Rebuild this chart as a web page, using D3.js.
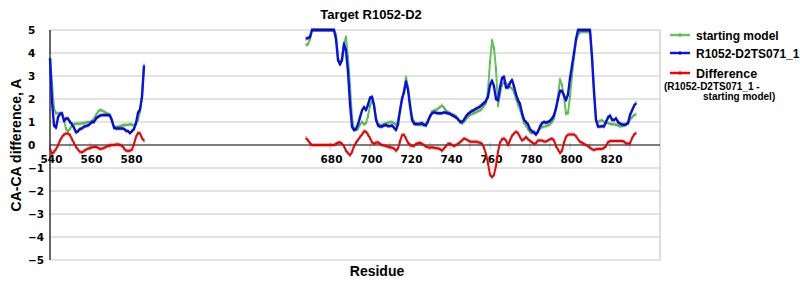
<!DOCTYPE html>
<html>
<head>
<meta charset="utf-8">
<script src="https://cdn.jsdelivr.net/npm/d3@7"></script>
<style>
    body { margin: 0; background: #ffffff; }
    .TickText { font-family: "DejaVu Sans", sans-serif; font-weight: bold; font-size: 10.5px; fill: #000; }
    .TitleText { font-family: "Liberation Sans", Arial, sans-serif; font-weight: bold; fill: #000; }
    .LegendText { font-family: "Liberation Sans", Arial, sans-serif; font-weight: bold; fill: #000; }
</style>
</head>
<body>
<svg id="SvgContainer"></svg>
<script>
//Globals
var width = 800;
var height = 300;

// residues where each stretch of data starts
var firstStart = 540;
var secondStart = 668;

// y axis tick values
var yTicks = [-5, -4, -3, -2, -1, 0, 1, 2, 3, 4, 5];

// starting model, residues 540-587
var startingModelA = [3.9, 2.7, 1.6, 1.38, 1.38, 1.38, 1.35, 1.1, 0.7, 0.6,
    0.7, 0.85, 0.9, 0.92, 0.92, 0.92, 0.95, 0.95, 0.98, 1.0,
    1.0, 1.05, 1.15, 1.3, 1.45, 1.52, 1.5, 1.45, 1.4, 1.35,
    1.3, 1.1, 0.8, 0.78, 0.8, 0.82, 0.85, 0.87, 0.87, 0.88,
    0.9, 0.88, 0.85, 0.95, 1.1, 1.45, 2.1, 3.4];

// starting model, residues 668-833
var startingModelB = [4.35, 4.38, 4.6, 5, 5, 5, 5, 5, 5, 5, 5, 5, 5, 5, 5,
    4.8, 3.8, 3.55, 3.75, 4.4, 4.7, 3.8, 2.6, 1.2, 0.7, 0.65,
    0.7, 0.9, 1.0, 0.9, 0.95, 1.25, 1.7, 1.95, 1.7, 1.2,
    0.9, 0.87, 0.87, 0.9, 0.95, 0.97, 1.0, 1.0, 0.95, 0.87,
    1.1, 1.5, 2.0, 2.4, 2.95, 2.5, 1.8, 1.25, 1.0, 0.95,
    0.88,
    0.88, 0.87, 0.87, 0.92, 1.0, 1.2, 1.45, 1.5, 1.52, 1.58,
    1.65, 1.72, 1.62, 1.5, 1.42, 1.38, 1.33, 1.3, 1.25, 1.12,
    0.98, 0.94, 1.0, 1.12, 1.22, 1.3, 1.35, 1.38, 1.42, 1.47,
    1.5, 1.58, 1.7, 1.82, 2.4, 3.6, 4.55, 4.2, 3.3, 1.7,
    2.2, 2.62, 2.72, 2.68, 2.62, 2.52, 2.46, 2.3, 2.0, 1.75,
    1.55, 1.25, 0.95,
    0.85, 0.7, 0.55, 0.52, 0.55, 0.52, 0.6, 0.72, 0.78, 0.8,
    0.82, 0.85, 0.9, 1.0, 1.15, 1.55, 2.15, 2.85, 2.6, 2.05,
    1.35, 1.4, 2.1, 3.0, 3.8, 4.5, 4.8, 4.9, 4.92, 4.92,
    4.92, 4.92, 4.9, 3.9, 2.4, 1.05, 1.0, 1.05, 1.08, 1.0,
    0.98, 0.95, 0.92, 0.9, 0.9, 0.88, 0.85, 0.8, 0.82, 0.85,
    0.88, 0.95, 1.1, 1.2, 1.3, 1.33];

// R1052-D2TS071_1, residues 540-587
var modelA = [3.77, 1.9, 0.85, 0.75, 1.2, 1.35, 1.38, 1.05, 1.15, 1.15,
    1.0, 0.9, 0.75, 0.55, 0.6, 0.7, 0.72, 0.8, 0.82, 0.85,
    0.92, 1.0, 1.0, 1.15, 1.22, 1.28, 1.3, 1.3, 1.3, 1.3,
    1.28, 1.05, 0.75, 0.72, 0.72, 0.72, 0.72, 0.7, 0.62, 0.6,
    0.52, 0.6, 0.7, 0.95, 1.4, 1.55, 2.1, 3.45];

// R1052-D2TS071_1, residues 668-833
var modelB = [4.62, 4.65, 4.7, 5, 5, 5, 5, 5, 5, 5, 5, 5, 5, 5, 5,
    4.6, 3.7, 3.5, 3.7, 4.4, 4.1, 3.2, 1.8, 0.8, 0.65,
    0.7, 0.9, 1.2, 1.5, 1.65, 1.52, 1.75, 2.05, 2.1, 1.74,
    1.1, 0.85, 0.8, 0.8, 0.85, 0.87, 0.82, 0.82, 0.85, 0.75,
    0.65, 0.9, 1.5, 2.0, 2.3, 2.75, 2.4, 1.7, 1.1, 0.93, 0.9,
    0.92,
    0.93, 0.95, 0.88, 0.85, 1.05, 1.25, 1.38, 1.42, 1.4, 1.38,
    1.38, 1.38, 1.42, 1.4, 1.38, 1.35, 1.3, 1.25, 1.2, 1.12,
    1.02, 1.0, 1.1, 1.25, 1.35, 1.42, 1.48, 1.52, 1.58, 1.62,
    1.67, 1.75, 1.83, 1.92, 2.1, 2.6, 2.8, 2.55, 2.0, 1.95,
    2.5, 2.9, 2.97, 2.5, 2.5, 2.7, 2.83, 2.55, 2.2, 1.95,
    1.78, 1.4, 1.1,
    1.0, 0.9, 0.68, 0.6, 0.55, 0.45, 0.58, 0.8, 0.95, 1.0,
    0.97, 1.0, 1.05, 1.15, 1.3, 1.6, 2.0, 2.35, 2.35, 2.15,
    1.95, 2.2, 2.9, 3.45, 4.0, 4.6, 5, 5, 5, 5,
    5, 5, 5, 3.8, 2.3, 1.1, 0.8, 0.8, 0.82, 0.8,
    1.0, 1.2, 1.28, 1.1, 1.09, 1.16, 1.0, 0.93, 0.9, 0.88,
    0.9, 0.95, 1.3, 1.5, 1.7, 1.82];

// Difference, residues 540-587
var differenceA = [-0.15, -0.38, -0.3, -0.18, -0.02, 0.2, 0.35, 0.45, 0.5, 0.5,
    0.43, 0.25, 0.08, -0.08, -0.2, -0.3, -0.32, -0.26, -0.2, -0.16,
    -0.13, -0.1, -0.09, -0.08, -0.12, -0.17, -0.15, -0.13, -0.08, -0.04,
    -0.02, 0.0, 0.0, 0.02, 0.03, 0.0, -0.03, -0.15, -0.24, -0.26,
    -0.25, -0.2, 0.05, 0.35, 0.52, 0.51, 0.3, 0.18];

// Difference, residues 668-833
var differenceB = [0.3, 0.2, 0.08, 0, 0, 0, 0, 0, 0, 0, 0, 0, 0, 0, 0,
    0.05, 0.1, 0.12, 0.05, -0.05, -0.25, -0.35, -0.45, -0.3, -0.05, 0.1,
    0.22, 0.35, 0.45, 0.6, 0.58, 0.45, 0.3, 0.12, 0.05, 0.1,
    0.12, 0.05, 0.0, -0.02, -0.05, -0.08, -0.1, -0.12, -0.15, -0.25,
    -0.15, 0.15, 0.43, 0.45, 0.28, 0.1, 0.0, -0.03, -0.05, 0.05,
    0.08,
    0.1, 0.05, 0.0, -0.07, -0.1, -0.12, -0.1, -0.12, -0.14, -0.14,
    -0.18, -0.25, -0.15, -0.05, 0.05, 0.06, 0.0, -0.05, 0.0, 0.05,
    0.12, 0.2, 0.28, 0.25, 0.2, 0.15, 0.14, 0.14, 0.14, 0.12,
    0.1, 0.05, -0.12, -0.4, -0.8, -1.3, -1.4, -1.3, -0.9, -0.3,
    0.1, 0.25, 0.28, 0.2, 0.0, 0.2, 0.4, 0.5, 0.58, 0.52,
    0.35, 0.2, 0.25,
    0.35, 0.25, 0.18, 0.12, 0.05, 0.08, 0.2, 0.2, 0.2, 0.15,
    0.15, 0.2, 0.25, 0.28, 0.2, -0.05, -0.2, -0.35, -0.25, 0.1,
    0.35, 0.45, 0.46, 0.46, 0.46, 0.38, 0.25, 0.14, 0.1, 0.05,
    0.0, -0.05, -0.12, -0.18, -0.22, -0.18, -0.17, -0.17, -0.17, -0.13,
    -0.05, 0.12, 0.17, 0.17, 0.17, 0.17, 0.17, 0.17, 0.17, 0.15,
    0.07, 0.07, 0.07, 0.29, 0.45, 0.52];

var seriesNames = ["starting model", "R1052-D2TS071_1", "Difference"];
var seriesColors = ["#66c25a", "#0a10f5", "#ff0000"];
var markerColors = ["#3f9a3a", "#00007a", "#b00000"];

var plotLeft = 50, plotRight = 660, plotTop = 30, plotBottom = 260;

var svgContainer = null;

function Points(start, values) {
    return values.map(function (v, i) { return {r: start + i, v: v}; });
}

function Visualize() {

    svgContainer = d3.select("svg")
        .attr("width", width)
        .attr("height", height);

    var xScale = d3.scaleLinear().domain([540, 845]).range([plotLeft, plotRight]);
    var yScale = d3.scaleLinear().domain([-5, 5]).range([plotBottom, plotTop]);

    // grid
    svgContainer.append("g")
        .selectAll("line")
        .data(yTicks.filter(function (d) { return d !== 0; }))
        .enter()
        .append("line")
        .attr("x1", plotLeft)
        .attr("x2", plotRight)
        .attr("y1", function (d) { return yScale(d); })
        .attr("y2", function (d) { return yScale(d); })
        .attr("stroke", "#c8c8c8")
        .attr("stroke-width", 1.2);

    svgContainer.append("line")
        .attr("x1", plotRight).attr("x2", plotRight)
        .attr("y1", plotTop).attr("y2", plotBottom)
        .attr("stroke", "#c8c8c8")
        .attr("stroke-width", 1.2);

    // x ticks, only where there is data
    var residues = Points(firstStart, modelA).concat(Points(secondStart, modelB))
        .map(function (d) { return d.r; });
    var xTicks = residues.filter(function (r) { return r % 10 === 0; });
    var xLabels = residues.filter(function (r) { return r % 20 === 0; });

    svgContainer.append("g")
        .selectAll("line")
        .data(xTicks)
        .enter()
        .append("line")
        .attr("x1", function (d) { return xScale(d); })
        .attr("x2", function (d) { return xScale(d); })
        .attr("y1", yScale(0) - 3)
        .attr("y2", yScale(0) + 5)
        .attr("stroke", "#c8c8c8")
        .attr("stroke-width", 1);

    // axes
    svgContainer.append("line")
        .attr("x1", plotLeft).attr("x2", plotRight)
        .attr("y1", yScale(0)).attr("y2", yScale(0))
        .attr("stroke", "#000").attr("stroke-width", 1.2);

    svgContainer.append("line")
        .attr("x1", plotLeft).attr("x2", plotLeft)
        .attr("y1", plotTop).attr("y2", plotBottom)
        .attr("stroke", "#000").attr("stroke-width", 1.2);

    svgContainer.append("g")
        .selectAll("text")
        .data(yTicks)
        .enter()
        .append("text")
        .attr("class", "TickText")
        .attr("x", 28)
        .attr("y", function (d) { return yScale(d) + 4; })
        .text(function (d) { return d < 0 ? "\u2212" + Math.abs(d) : d; });

    svgContainer.append("g")
        .selectAll("text")
        .data(xLabels)
        .enter()
        .append("text")
        .attr("class", "TickText")
        .attr("text-anchor", "middle")
        .attr("x", function (d) { return xScale(d) + 1.5; })
        .attr("y", yScale(0) + 18)
        .text(function (d) { return d; });

    // series
    var series = [
        [Points(firstStart, startingModelA), Points(secondStart, startingModelB)],
        [Points(firstStart, modelA), Points(secondStart, modelB)],
        [Points(firstStart, differenceA), Points(secondStart, differenceB)]
    ];
    var widths = [2, 2.4, 2];

    var line = d3.line()
        .x(function (d) { return xScale(d.r); })
        .y(function (d) { return yScale(d.v); });

    series.forEach(function (parts, k) {
        var g = svgContainer.append("g").attr("class", "Series" + k);
        parts.forEach(function (pts) {
            g.append("path")
                .attr("d", line(pts))
                .attr("fill", "none")
                .attr("stroke", seriesColors[k])
                .attr("stroke-width", widths[k])
                .attr("stroke-linejoin", "round");
            g.selectAll(null)
                .data(pts)
                .enter()
                .append("rect")
                .attr("x", function (d) { return xScale(d.r) - 0.5; })
                .attr("y", function (d) { return yScale(d.v) - 2; })
                .attr("width", 1)
                .attr("height", 4)
                .attr("fill", markerColors[k])
                .attr("opacity", 0.6);
        });
    });

    // titles
    svgContainer.append("text")
        .attr("class", "TitleText")
        .attr("x", 371)
        .attr("y", 19)
        .attr("text-anchor", "middle")
        .style("font-size", "13px")
        .text("Target R1052-D2");

    svgContainer.append("text")
        .attr("class", "TitleText")
        .attr("x", 377)
        .attr("y", 276)
        .attr("text-anchor", "middle")
        .style("font-size", "14px")
        .text("Residue");

    svgContainer.append("text")
        .attr("class", "TitleText")
        .attr("transform", "translate(21," + yScale(0) + ") rotate(-90)")
        .attr("text-anchor", "middle")
        .style("font-size", "14px")
        .text("CA-CA difference, A");

    // legend
    var legendY = [35, 53, 73];
    var legend = svgContainer.append("g").attr("class", "Legend");

    legend.selectAll("line")
        .data(seriesNames)
        .enter()
        .append("line")
        .attr("x1", 670).attr("x2", 690)
        .attr("y1", function (d, i) { return legendY[i]; })
        .attr("y2", function (d, i) { return legendY[i]; })
        .attr("stroke", function (d, i) { return seriesColors[i]; })
        .attr("stroke-width", 2.4);

    legend.selectAll("rect")
        .data(seriesNames)
        .enter()
        .append("rect")
        .attr("x", 679.5)
        .attr("y", function (d, i) { return legendY[i] - 2; })
        .attr("width", 1).attr("height", 4)
        .attr("fill", function (d, i) { return markerColors[i]; });

    legend.selectAll("text.LegendText")
        .data(seriesNames)
        .enter()
        .append("text")
        .attr("class", "LegendText")
        .attr("x", 696)
        .attr("y", function (d, i) { return legendY[i] + 4.5; })
        .style("font-size", function (d, i) { return i === 2 ? "12.5px" : "12px"; })
        .text(function (d) { return d; });

    legend.append("text")
        .attr("class", "LegendText")
        .attr("x", 664)
        .attr("y", 90)
        .style("font-size", "10px")
        .text("(R1052-D2TS071_1 -");

    legend.append("text")
        .attr("class", "LegendText")
        .attr("x", 703)
        .attr("y", 100)
        .style("font-size", "10px")
        .text("starting model)");
}

Visualize();
</script>
</body>
</html>
